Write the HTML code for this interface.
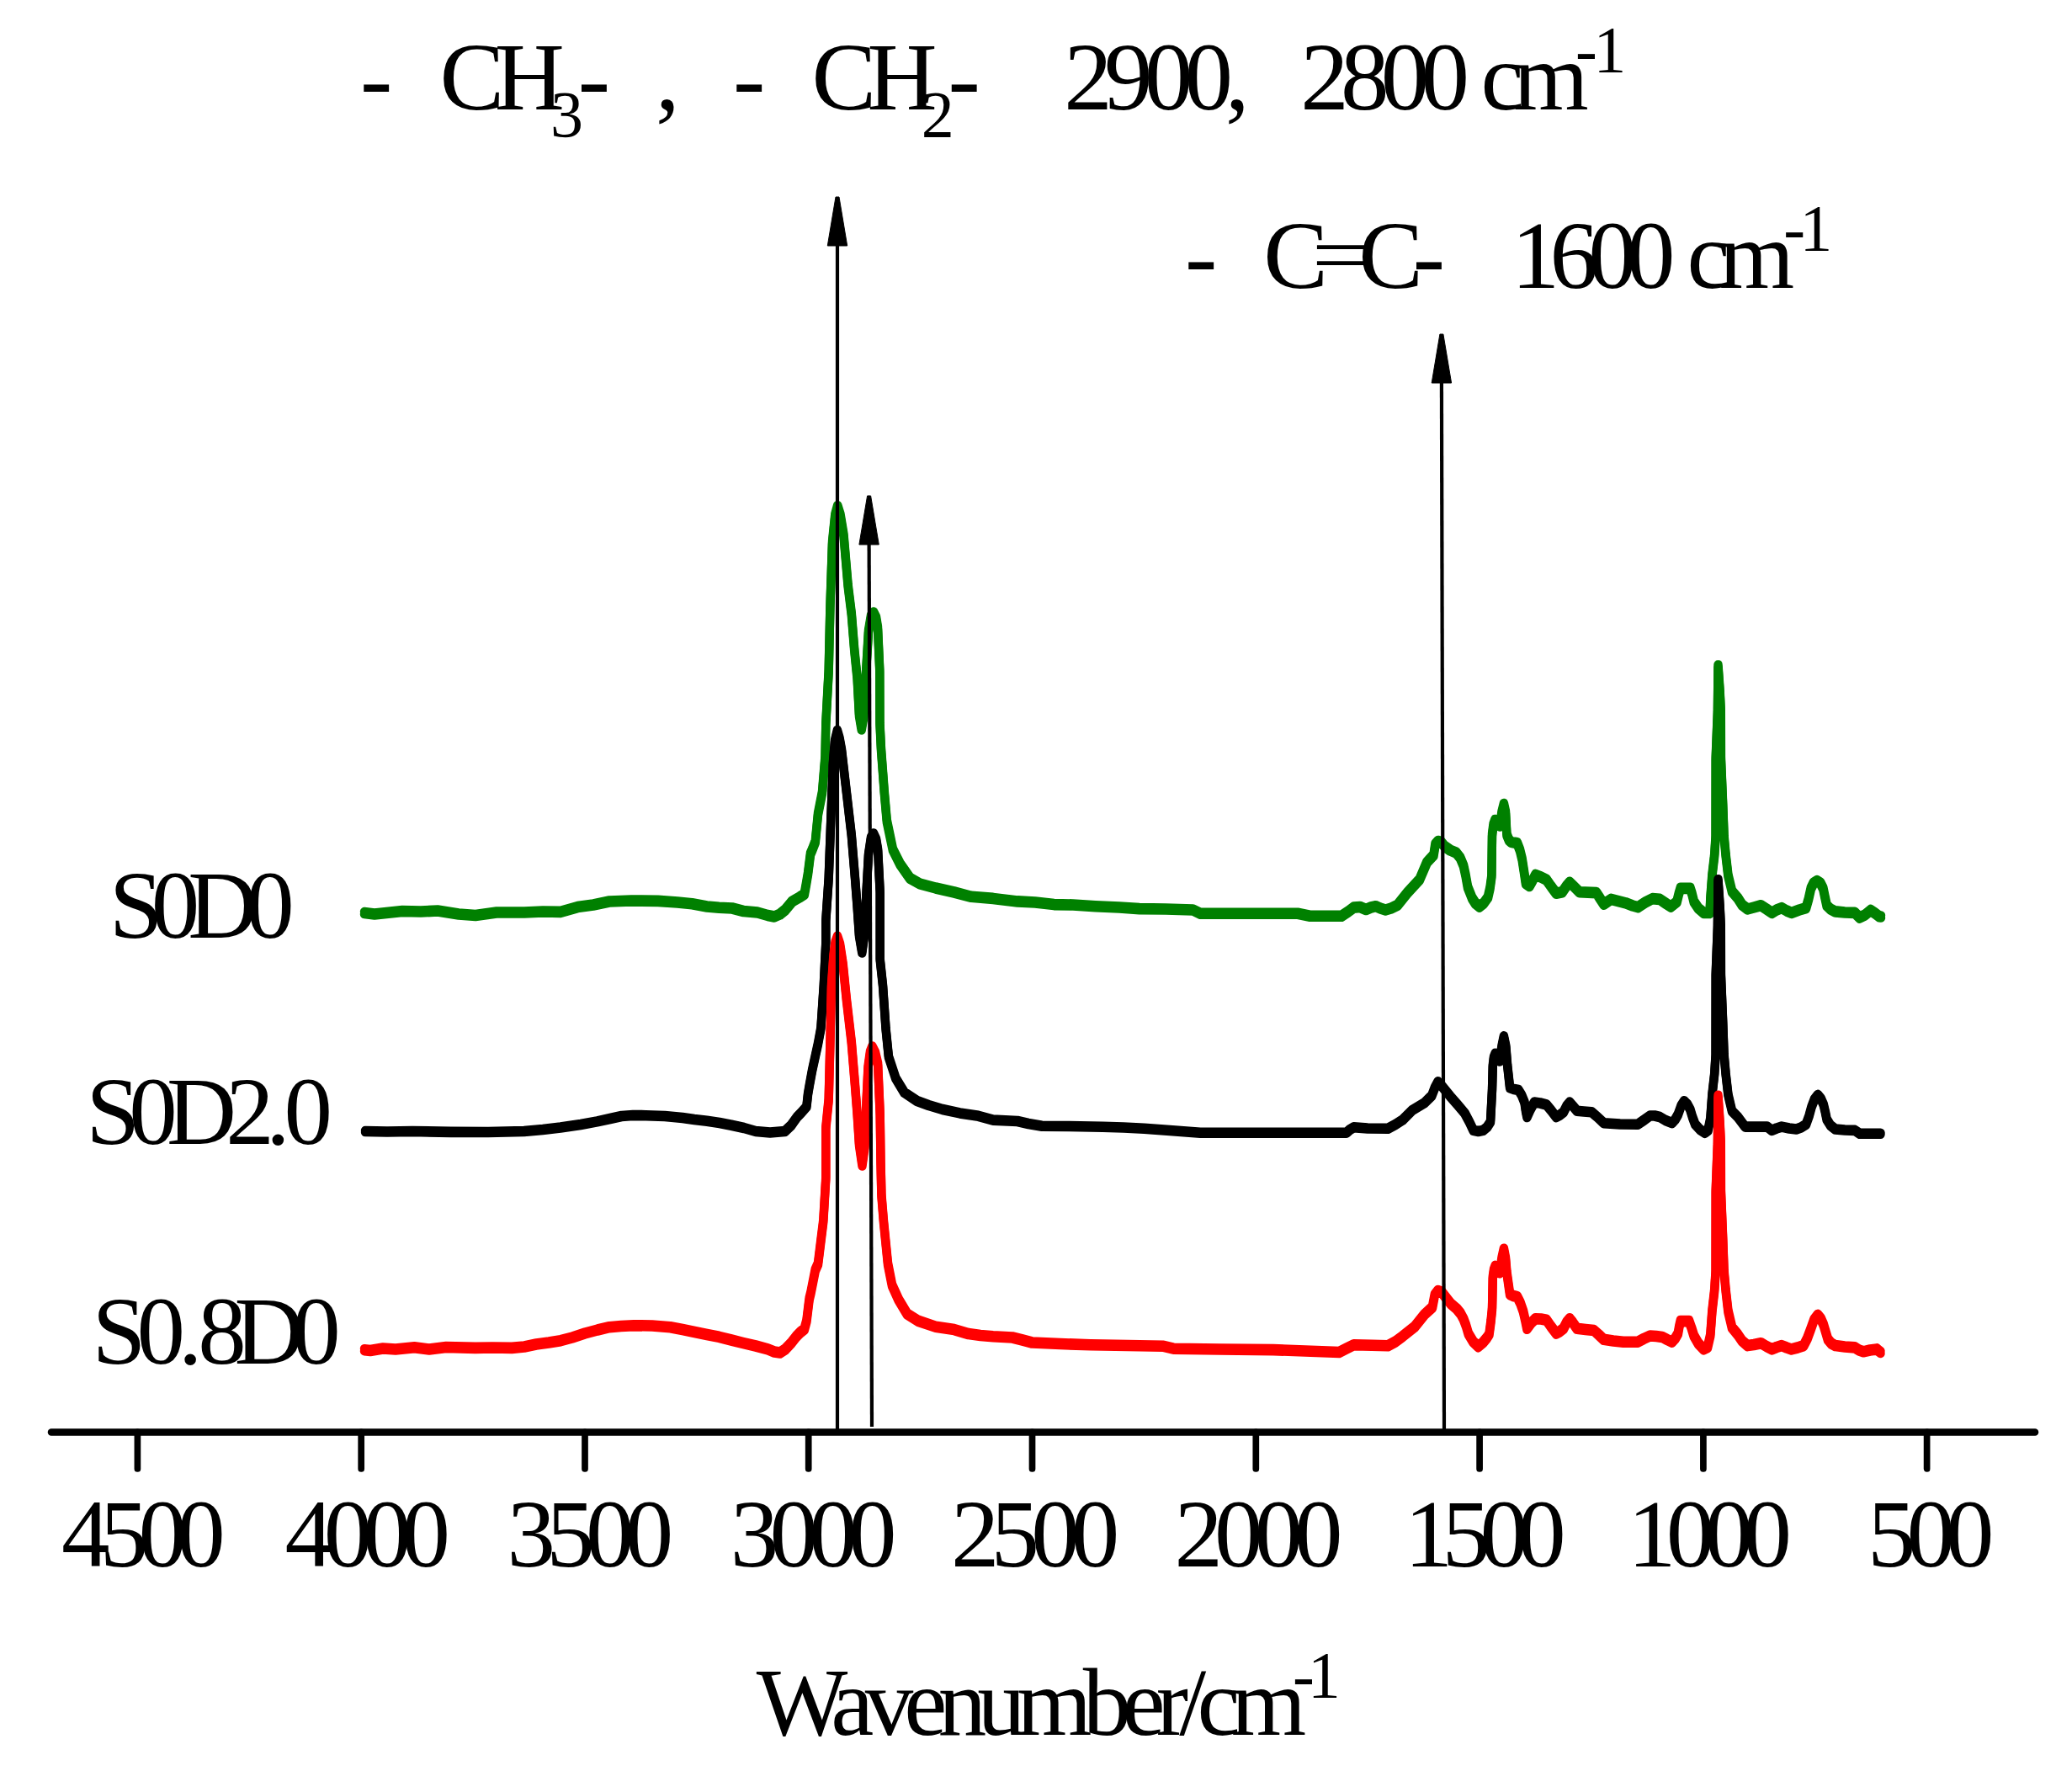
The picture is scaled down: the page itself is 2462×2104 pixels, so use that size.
<!DOCTYPE html>
<html><head><meta charset="utf-8"><title>FTIR spectra</title>
<style>html,body{margin:0;padding:0;background:#fff}svg{display:block}</style></head>
<body>
<svg width="2462" height="2104" viewBox="0 0 2462 2104">
<rect width="2462" height="2104" fill="#fff"/>
<g fill="none" stroke="#008000" stroke-width="10.4" stroke-linejoin="round" stroke-linecap="round"><polyline points="433.0,1083.0 445.0,1084.4 478.0,1080.9 500.0,1081.4 520.0,1080.4 545.0,1084.4 565.0,1085.9 590.0,1082.4 623.0,1082.4 645.0,1081.4 666.0,1081.8 686.4,1076.0 705.0,1073.4 724.0,1069.4 750.0,1068.4 782.0,1068.8 805.0,1070.4 822.5,1072.2 840.0,1075.4 854.4,1076.6 870.0,1077.4 883.4,1080.9 900.0,1082.4 912.3,1085.9 920.0,1087.4 926.8,1084.4 933.0,1079.4 941.3,1069.4 950.0,1064.4 955.8,1060.7 958.0,1048.4 960.1,1036.0 963.0,1012.9 965.2,1007.8 968.8,998.4 972.0,965.4 977.0,940.0 980.5,897.7 981.3,858.4 984.7,795.4 986.4,719.4 989.0,643.1 992.3,610.4 995.2,599.9 998.5,610.4 1002.5,634.4 1007.6,693.9 1011.8,727.8 1015.2,770.2 1018.6,804.0 1021.0,848.4 1023.7,864.4 1026.5,848.4 1029.0,798.4 1032.0,748.4 1035.0,730.4 1038.0,726.4 1041.0,732.4 1043.0,744.4 1045.3,795.4 1045.5,858.4 1047.0,889.2 1050.8,940.0 1053.8,973.9 1060.9,1007.8 1069.4,1024.7 1081.3,1041.7 1093.1,1048.4 1111.8,1053.4 1133.8,1058.4 1154.0,1063.7 1180.0,1065.8 1209.0,1069.3 1230.0,1070.4 1252.4,1073.0 1275.0,1073.4 1301.6,1075.1 1330.0,1076.4 1353.8,1078.0 1385.0,1078.4 1417.5,1079.4 1426.2,1083.7 1480.0,1083.7 1542.0,1083.7 1556.5,1086.6 1594.1,1086.6 1602.0,1081.4 1608.6,1076.5 1616.0,1075.9 1623.1,1078.9 1629.0,1076.4 1634.7,1075.1 1640.0,1077.4 1646.3,1079.4 1653.0,1077.4 1660.7,1073.6 1672.3,1059.1 1686.8,1043.2 1695.5,1022.9 1703.5,1014.2 1705.5,1001.4 1708.6,997.9 1712.5,998.9 1716.5,1003.9 1723.0,1008.4 1730.3,1011.6 1735.0,1017.4 1739.0,1026.9 1741.5,1038.4 1744.0,1052.4 1749.2,1065.4 1753.0,1071.4 1757.9,1075.4 1763.0,1071.4 1768.0,1064.4 1770.5,1053.4 1772.4,1039.4 1773.0,990.1 1774.5,978.4 1776.5,972.9 1779.5,973.4 1782.3,979.4 1784.5,963.4 1786.9,953.9 1789.0,963.4 1790.4,990.1 1793.0,996.4 1795.6,998.8 1802.8,1000.2 1806.0,1008.4 1808.6,1019.0 1811.0,1034.4 1813.0,1048.0 1817.3,1050.9 1820.5,1045.4 1824.5,1037.9 1831.0,1040.4 1837.6,1043.7 1843.0,1051.4 1849.1,1059.6 1856.4,1058.1 1861.0,1051.4 1865.1,1046.6 1870.0,1051.4 1876.7,1058.1 1896.9,1059.0 1901.0,1065.4 1905.6,1072.6 1914.3,1066.8 1931.7,1071.2 1940.0,1074.4 1946.2,1076.1 1955.0,1070.4 1963.5,1066.0 1972.2,1066.8 1979.0,1071.4 1985.3,1075.5 1992.5,1069.7 1994.8,1060.4 1996.8,1053.8 2008.4,1053.8 2010.5,1060.4 2012.8,1069.7 2018.0,1077.4 2024.4,1082.8 2031.6,1082.8 2032.3,1066.4 2034.4,1038.4 2037.2,1014.4 2038.6,992.4 2038.7,899.4 2040.9,843.4 2041.5,789.4 2043.6,819.4 2044.8,843.4 2044.9,899.4 2047.2,954.4 2048.6,992.4 2050.6,1014.4 2053.4,1038.4 2058.0,1057.4 2064.9,1065.4 2070.0,1073.4 2076.5,1078.4 2084.0,1076.4 2092.4,1074.1 2099.0,1078.4 2105.4,1082.8 2111.0,1079.4 2117.0,1077.0 2123.0,1080.4 2128.6,1082.8 2138.0,1079.4 2146.0,1077.0 2149.0,1066.4 2151.8,1053.8 2155.0,1047.4 2159.0,1045.1 2163.0,1047.4 2166.3,1053.8 2168.5,1064.4 2170.6,1074.1 2175.0,1078.4 2180.7,1081.3 2192.0,1082.4 2203.9,1082.8 2209.7,1088.5 2216.0,1085.4 2222.7,1079.9 2228.0,1083.4 2232.9,1087.1 2235.0,1087.4"/><polyline points="433.0,1086.2 445.0,1087.6 478.0,1084.1 500.0,1084.6 520.0,1083.6 545.0,1087.6 565.0,1089.1 590.0,1085.6 623.0,1085.6 645.0,1084.6 666.0,1085.0 686.4,1079.2 705.0,1076.6 724.0,1072.6 750.0,1071.6 782.0,1072.0 805.0,1073.6 822.5,1075.4 840.0,1078.6 854.4,1079.8 870.0,1080.6 883.4,1084.1 900.0,1085.6 912.3,1089.1 920.0,1090.6 926.8,1087.6 933.0,1082.6 941.3,1072.6 950.0,1067.6 955.8,1063.9 958.0,1051.6 960.1,1039.2 963.0,1016.1 965.2,1011.0 968.8,1001.6 972.0,968.6 977.0,943.2 980.5,900.9 981.3,861.6 984.7,798.6 986.4,722.6 989.0,646.3 992.3,613.6 995.2,603.1 998.5,613.6 1002.5,637.6 1007.6,697.1 1011.8,731.0 1015.2,773.4 1018.6,807.2 1021.0,851.6 1023.7,867.6 1026.5,851.6 1029.0,801.6 1032.0,751.6 1035.0,733.6 1038.0,729.6 1041.0,735.6 1043.0,747.6 1045.3,798.6 1045.5,861.6 1047.0,892.4 1050.8,943.2 1053.8,977.1 1060.9,1011.0 1069.4,1027.9 1081.3,1044.9 1093.1,1051.6 1111.8,1056.6 1133.8,1061.6 1154.0,1066.9 1180.0,1069.0 1209.0,1072.5 1230.0,1073.6 1252.4,1076.2 1275.0,1076.6 1301.6,1078.3 1330.0,1079.6 1353.8,1081.2 1385.0,1081.6 1417.5,1082.6 1426.2,1086.9 1480.0,1086.9 1542.0,1086.9 1556.5,1089.8 1594.1,1089.8 1602.0,1084.6 1608.6,1079.7 1616.0,1079.1 1623.1,1082.1 1629.0,1079.6 1634.7,1078.3 1640.0,1080.6 1646.3,1082.6 1653.0,1080.6 1660.7,1076.8 1672.3,1062.3 1686.8,1046.4 1695.5,1026.1 1703.5,1017.4 1705.5,1004.6 1708.6,1001.1 1712.5,1002.1 1716.5,1007.1 1723.0,1011.6 1730.3,1014.8 1735.0,1020.6 1739.0,1030.1 1741.5,1041.6 1744.0,1055.6 1749.2,1068.6 1753.0,1074.6 1757.9,1078.6 1763.0,1074.6 1768.0,1067.6 1770.5,1056.6 1772.4,1042.6 1773.0,993.3 1774.5,981.6 1776.5,976.1 1779.5,976.6 1782.3,982.6 1784.5,966.6 1786.9,957.1 1789.0,966.6 1790.4,993.3 1793.0,999.6 1795.6,1002.0 1802.8,1003.4 1806.0,1011.6 1808.6,1022.2 1811.0,1037.6 1813.0,1051.2 1817.3,1054.1 1820.5,1048.6 1824.5,1041.1 1831.0,1043.6 1837.6,1046.9 1843.0,1054.6 1849.1,1062.8 1856.4,1061.3 1861.0,1054.6 1865.1,1049.8 1870.0,1054.6 1876.7,1061.3 1896.9,1062.2 1901.0,1068.6 1905.6,1075.8 1914.3,1070.0 1931.7,1074.4 1940.0,1077.6 1946.2,1079.3 1955.0,1073.6 1963.5,1069.2 1972.2,1070.0 1979.0,1074.6 1985.3,1078.7 1992.5,1072.9 1994.8,1063.6 1996.8,1057.0 2008.4,1057.0 2010.5,1063.6 2012.8,1072.9 2018.0,1080.6 2024.4,1086.0 2031.6,1086.0 2032.3,1069.6 2034.4,1041.6 2037.2,1017.6 2038.6,995.6 2038.7,902.6 2040.9,846.6 2041.5,792.6 2043.6,822.6 2044.8,846.6 2044.9,902.6 2047.2,957.6 2048.6,995.6 2050.6,1017.6 2053.4,1041.6 2058.0,1060.6 2064.9,1068.6 2070.0,1076.6 2076.5,1081.6 2084.0,1079.6 2092.4,1077.3 2099.0,1081.6 2105.4,1086.0 2111.0,1082.6 2117.0,1080.2 2123.0,1083.6 2128.6,1086.0 2138.0,1082.6 2146.0,1080.2 2149.0,1069.6 2151.8,1057.0 2155.0,1050.6 2159.0,1048.3 2163.0,1050.6 2166.3,1057.0 2168.5,1067.6 2170.6,1077.3 2175.0,1081.6 2180.7,1084.5 2192.0,1085.6 2203.9,1086.0 2209.7,1091.7 2216.0,1088.6 2222.7,1083.1 2228.0,1086.6 2232.9,1090.3 2235.0,1090.6"/></g>
<g fill="none" stroke="#000" stroke-width="10.4" stroke-linejoin="round" stroke-linecap="round"><polyline points="434.0,1342.9 460.0,1343.4 490.0,1342.9 535.8,1343.8 580.0,1343.9 622.7,1342.9 645.0,1340.9 666.0,1338.5 690.0,1334.9 709.6,1331.3 725.0,1327.9 738.6,1324.9 752.0,1323.9 767.5,1324.1 790.0,1324.9 811.0,1326.9 825.0,1328.9 840.0,1330.7 855.0,1332.9 869.0,1335.6 884.0,1338.9 897.9,1342.9 915.0,1344.4 932.6,1342.9 940.0,1335.9 947.4,1325.6 952.0,1320.9 958.4,1313.7 960.0,1298.9 961.8,1288.3 965.0,1270.9 968.6,1254.4 972.0,1238.9 975.4,1220.5 978.8,1169.7 981.3,1118.9 981.3,1092.9 984.7,1042.2 987.2,974.4 989.8,906.7 992.0,878.9 994.9,866.9 997.5,875.9 1000.0,889.7 1005.9,940.5 1011.8,991.4 1016.0,1042.2 1018.6,1076.1 1021.0,1110.9 1024.3,1130.4 1027.0,1110.9 1029.5,1058.9 1032.0,1013.9 1035.0,993.9 1038.0,989.4 1041.0,995.9 1043.1,1008.3 1045.7,1059.1 1045.7,1138.9 1049.0,1169.7 1052.5,1220.5 1055.9,1254.4 1064.3,1279.9 1074.5,1296.8 1089.7,1306.9 1103.3,1311.9 1120.0,1316.9 1140.5,1321.3 1162.6,1324.7 1180.0,1329.5 1209.0,1330.9 1222.0,1333.9 1238.0,1336.7 1270.0,1336.9 1310.3,1337.6 1335.0,1338.4 1359.6,1339.6 1390.0,1341.9 1426.2,1344.6 1500.0,1344.6 1600.0,1344.6 1604.0,1340.9 1608.6,1338.2 1625.0,1339.4 1649.2,1339.6 1658.0,1334.9 1666.5,1329.5 1678.1,1317.9 1692.6,1309.2 1701.3,1300.5 1705.0,1290.9 1708.6,1284.2 1713.0,1288.9 1723.2,1301.3 1732.0,1311.4 1740.5,1321.5 1746.0,1331.9 1750.7,1341.8 1756.5,1342.9 1762.3,1341.8 1767.0,1337.9 1771.0,1331.7 1773.0,1293.9 1773.8,1264.9 1775.0,1254.9 1776.7,1250.6 1779.5,1253.9 1782.0,1259.3 1784.5,1241.9 1786.9,1230.3 1789.3,1241.9 1791.2,1265.1 1794.1,1291.1 1799.0,1292.9 1804.3,1293.9 1808.0,1299.9 1811.5,1308.5 1813.0,1318.9 1814.4,1325.9 1818.0,1317.9 1823.1,1308.5 1830.0,1309.4 1837.6,1311.4 1843.0,1317.9 1849.1,1325.9 1853.0,1323.9 1857.8,1320.1 1861.5,1312.9 1865.1,1308.5 1869.0,1312.9 1873.8,1318.6 1882.0,1319.4 1891.1,1320.1 1898.0,1325.9 1905.6,1333.1 1925.0,1334.4 1946.2,1334.6 1953.0,1329.9 1960.6,1324.4 1966.0,1324.4 1972.2,1325.9 1979.0,1329.9 1986.7,1333.1 1990.5,1328.9 1993.9,1322.9 1997.5,1312.9 2001.2,1307.1 2005.0,1310.9 2008.4,1317.2 2011.0,1325.9 2014.2,1334.6 2020.0,1340.9 2025.8,1344.7 2029.5,1341.9 2032.3,1328.1 2034.4,1299.4 2037.2,1274.8 2038.6,1252.3 2038.7,1156.9 2040.9,1099.5 2041.5,1044.2 2043.6,1074.9 2044.8,1099.5 2044.9,1156.9 2047.2,1213.3 2048.6,1252.3 2050.6,1274.8 2053.4,1299.4 2058.0,1318.9 2064.9,1325.9 2073.6,1337.5 2086.0,1337.5 2099.7,1337.5 2105.4,1341.8 2111.0,1339.4 2117.0,1337.5 2126.0,1339.4 2134.4,1340.4 2140.0,1338.4 2146.0,1334.6 2149.5,1324.9 2152.4,1314.3 2156.0,1304.9 2159.9,1299.8 2163.5,1303.9 2166.8,1311.4 2168.8,1319.9 2170.6,1328.8 2175.0,1335.9 2180.7,1340.4 2192.0,1341.4 2203.9,1341.8 2209.7,1345.6 2225.0,1345.6 2234.5,1345.6"/><polyline points="434.0,1345.1 460.0,1345.6 490.0,1345.1 535.8,1346.0 580.0,1346.1 622.7,1345.1 645.0,1343.1 666.0,1340.7 690.0,1337.1 709.6,1333.5 725.0,1330.1 738.6,1327.1 752.0,1326.1 767.5,1326.3 790.0,1327.1 811.0,1329.1 825.0,1331.1 840.0,1332.9 855.0,1335.1 869.0,1337.8 884.0,1341.1 897.9,1345.1 915.0,1346.6 932.6,1345.1 940.0,1338.1 947.4,1327.8 952.0,1323.1 958.4,1315.9 960.0,1301.1 961.8,1290.5 965.0,1273.1 968.6,1256.6 972.0,1241.1 975.4,1222.7 978.8,1171.9 981.3,1121.1 981.3,1095.1 984.7,1044.4 987.2,976.6 989.8,908.9 992.0,881.1 994.9,869.1 997.5,878.1 1000.0,891.9 1005.9,942.7 1011.8,993.6 1016.0,1044.4 1018.6,1078.3 1021.0,1113.1 1024.3,1132.6 1027.0,1113.1 1029.5,1061.1 1032.0,1016.1 1035.0,996.1 1038.0,991.6 1041.0,998.1 1043.1,1010.5 1045.7,1061.3 1045.7,1141.1 1049.0,1171.9 1052.5,1222.7 1055.9,1256.6 1064.3,1282.1 1074.5,1299.0 1089.7,1309.1 1103.3,1314.1 1120.0,1319.1 1140.5,1323.5 1162.6,1326.9 1180.0,1331.7 1209.0,1333.1 1222.0,1336.1 1238.0,1338.9 1270.0,1339.1 1310.3,1339.8 1335.0,1340.6 1359.6,1341.8 1390.0,1344.1 1426.2,1346.8 1500.0,1346.8 1600.0,1346.8 1604.0,1343.1 1608.6,1340.4 1625.0,1341.6 1649.2,1341.8 1658.0,1337.1 1666.5,1331.7 1678.1,1320.1 1692.6,1311.4 1701.3,1302.7 1705.0,1293.1 1708.6,1286.4 1713.0,1291.1 1723.2,1303.5 1732.0,1313.6 1740.5,1323.7 1746.0,1334.1 1750.7,1344.0 1756.5,1345.1 1762.3,1344.0 1767.0,1340.1 1771.0,1333.9 1773.0,1296.1 1773.8,1267.1 1775.0,1257.1 1776.7,1252.8 1779.5,1256.1 1782.0,1261.5 1784.5,1244.1 1786.9,1232.5 1789.3,1244.1 1791.2,1267.3 1794.1,1293.3 1799.0,1295.1 1804.3,1296.1 1808.0,1302.1 1811.5,1310.7 1813.0,1321.1 1814.4,1328.1 1818.0,1320.1 1823.1,1310.7 1830.0,1311.6 1837.6,1313.6 1843.0,1320.1 1849.1,1328.1 1853.0,1326.1 1857.8,1322.3 1861.5,1315.1 1865.1,1310.7 1869.0,1315.1 1873.8,1320.8 1882.0,1321.6 1891.1,1322.3 1898.0,1328.1 1905.6,1335.3 1925.0,1336.6 1946.2,1336.8 1953.0,1332.1 1960.6,1326.6 1966.0,1326.6 1972.2,1328.1 1979.0,1332.1 1986.7,1335.3 1990.5,1331.1 1993.9,1325.1 1997.5,1315.1 2001.2,1309.3 2005.0,1313.1 2008.4,1319.4 2011.0,1328.1 2014.2,1336.8 2020.0,1343.1 2025.8,1346.9 2029.5,1344.1 2032.3,1330.3 2034.4,1301.6 2037.2,1277.0 2038.6,1254.5 2038.7,1159.1 2040.9,1101.7 2041.5,1046.4 2043.6,1077.1 2044.8,1101.7 2044.9,1159.1 2047.2,1215.5 2048.6,1254.5 2050.6,1277.0 2053.4,1301.6 2058.0,1321.1 2064.9,1328.1 2073.6,1339.7 2086.0,1339.7 2099.7,1339.7 2105.4,1344.0 2111.0,1341.6 2117.0,1339.7 2126.0,1341.6 2134.4,1342.6 2140.0,1340.6 2146.0,1336.8 2149.5,1327.1 2152.4,1316.5 2156.0,1307.1 2159.9,1302.0 2163.5,1306.1 2166.8,1313.6 2168.8,1322.1 2170.6,1331.0 2175.0,1338.1 2180.7,1342.6 2192.0,1343.6 2203.9,1344.0 2209.7,1347.8 2225.0,1347.8 2234.5,1347.8"/></g>
<g fill="none" stroke="#ff0000" stroke-width="10.4" stroke-linejoin="round" stroke-linecap="round"><polyline points="433.0,1602.1 440.0,1602.9 455.0,1600.4 470.0,1601.4 492.4,1599.2 510.0,1601.4 530.0,1598.9 564.8,1599.8 585.0,1599.4 608.2,1599.8 623.0,1598.4 637.2,1595.4 652.0,1593.4 666.2,1591.1 680.0,1587.4 695.0,1582.4 710.0,1578.4 724.0,1575.1 738.0,1573.9 753.0,1573.1 775.0,1573.4 796.5,1575.1 811.0,1577.9 825.4,1580.9 840.0,1583.9 854.4,1586.7 869.0,1590.4 883.4,1594.0 898.0,1597.4 912.3,1601.2 920.0,1604.4 926.8,1605.4 933.0,1601.4 940.7,1593.2 946.0,1586.4 950.8,1581.4 955.8,1577.4 958.4,1567.8 961.6,1541.8 963.5,1533.9 968.8,1507.1 972.0,1500.0 978.3,1449.2 981.3,1398.4 981.3,1338.6 984.7,1304.7 986.4,1237.0 988.0,1169.2 990.5,1133.4 992.5,1118.4 995.0,1111.4 998.0,1120.4 1001.6,1143.8 1005.9,1186.2 1011.8,1237.0 1016.0,1287.8 1018.6,1321.7 1021.0,1358.4 1024.5,1382.4 1027.5,1360.4 1029.5,1308.4 1031.5,1266.4 1034.0,1248.4 1036.4,1242.4 1040.0,1249.4 1043.1,1262.4 1045.7,1321.7 1046.5,1378.4 1047.4,1418.4 1049.9,1449.2 1055.0,1500.0 1060.0,1525.4 1067.7,1542.4 1077.9,1559.4 1091.4,1567.8 1111.8,1574.6 1133.8,1578.0 1150.7,1583.0 1165.0,1584.9 1180.0,1586.1 1203.0,1587.4 1215.0,1590.4 1226.3,1593.4 1260.0,1594.9 1295.8,1596.2 1340.0,1596.9 1382.7,1597.7 1394.3,1600.6 1450.0,1601.4 1513.0,1602.0 1550.7,1603.4 1591.2,1604.9 1600.0,1600.4 1608.6,1596.2 1630.0,1596.6 1649.2,1597.1 1658.0,1592.4 1666.5,1586.1 1681.0,1574.5 1692.6,1560.0 1702.0,1551.4 1704.8,1536.9 1708.6,1531.9 1713.0,1533.4 1718.0,1539.9 1724.0,1547.4 1731.0,1553.4 1735.5,1558.9 1739.0,1565.4 1742.0,1573.4 1744.8,1582.9 1750.5,1592.4 1756.4,1598.1 1762.0,1593.4 1767.0,1587.4 1769.5,1583.4 1771.5,1568.4 1773.0,1553.5 1773.8,1515.9 1775.0,1507.4 1776.7,1502.8 1779.5,1505.4 1782.0,1510.1 1784.5,1493.4 1786.9,1482.6 1789.0,1493.4 1790.4,1510.1 1794.1,1536.1 1798.0,1537.9 1802.8,1539.0 1806.5,1546.4 1810.0,1556.4 1812.5,1567.4 1814.4,1576.7 1819.0,1570.4 1824.5,1565.1 1831.0,1565.4 1837.6,1566.6 1843.0,1574.4 1849.1,1582.5 1853.0,1580.4 1857.8,1576.7 1861.5,1569.4 1865.1,1565.1 1869.0,1569.9 1873.8,1576.7 1884.0,1577.9 1894.0,1579.0 1900.0,1584.4 1905.6,1589.7 1917.0,1591.4 1928.8,1592.6 1946.2,1592.6 1953.0,1588.9 1960.6,1585.4 1968.0,1585.9 1975.1,1586.8 1981.0,1589.9 1986.7,1592.6 1990.5,1588.4 1993.9,1582.5 1995.3,1574.4 1996.8,1568.0 2007.0,1568.0 2010.0,1576.4 2012.8,1585.4 2018.0,1594.4 2024.4,1601.3 2029.0,1598.9 2032.3,1584.7 2034.4,1556.0 2037.2,1531.4 2038.6,1508.9 2038.7,1413.6 2040.9,1356.2 2041.5,1300.8 2043.6,1331.6 2044.8,1356.2 2044.9,1413.6 2047.2,1469.9 2048.6,1508.9 2050.6,1531.4 2053.4,1556.0 2058.0,1575.5 2064.9,1583.9 2070.0,1591.4 2076.5,1597.0 2084.0,1595.9 2092.4,1594.1 2099.0,1597.9 2105.4,1601.3 2111.0,1598.9 2117.0,1597.0 2123.0,1599.4 2128.6,1601.3 2136.0,1599.4 2143.1,1597.0 2147.5,1588.4 2151.8,1576.7 2155.5,1566.4 2159.9,1560.8 2163.5,1564.9 2166.8,1572.4 2169.5,1581.4 2172.0,1589.7 2176.0,1594.4 2180.7,1597.0 2192.0,1598.4 2203.9,1599.3 2209.0,1602.4 2214.0,1604.2 2222.0,1602.4 2230.0,1601.3 2232.5,1603.4 2234.5,1604.9"/><polyline points="433.0,1605.3 440.0,1606.1 455.0,1603.6 470.0,1604.6 492.4,1602.4 510.0,1604.6 530.0,1602.1 564.8,1603.0 585.0,1602.6 608.2,1603.0 623.0,1601.6 637.2,1598.6 652.0,1596.6 666.2,1594.3 680.0,1590.6 695.0,1585.6 710.0,1581.6 724.0,1578.3 738.0,1577.1 753.0,1576.3 775.0,1576.6 796.5,1578.3 811.0,1581.1 825.4,1584.1 840.0,1587.1 854.4,1589.9 869.0,1593.6 883.4,1597.2 898.0,1600.6 912.3,1604.4 920.0,1607.6 926.8,1608.6 933.0,1604.6 940.7,1596.4 946.0,1589.6 950.8,1584.6 955.8,1580.6 958.4,1571.0 961.6,1545.0 963.5,1537.1 968.8,1510.3 972.0,1503.2 978.3,1452.4 981.3,1401.6 981.3,1341.8 984.7,1307.9 986.4,1240.2 988.0,1172.4 990.5,1136.6 992.5,1121.6 995.0,1114.6 998.0,1123.6 1001.6,1147.0 1005.9,1189.4 1011.8,1240.2 1016.0,1291.0 1018.6,1324.9 1021.0,1361.6 1024.5,1385.6 1027.5,1363.6 1029.5,1311.6 1031.5,1269.6 1034.0,1251.6 1036.4,1245.6 1040.0,1252.6 1043.1,1265.6 1045.7,1324.9 1046.5,1381.6 1047.4,1421.6 1049.9,1452.4 1055.0,1503.2 1060.0,1528.6 1067.7,1545.6 1077.9,1562.6 1091.4,1571.0 1111.8,1577.8 1133.8,1581.2 1150.7,1586.2 1165.0,1588.1 1180.0,1589.3 1203.0,1590.6 1215.0,1593.6 1226.3,1596.6 1260.0,1598.1 1295.8,1599.4 1340.0,1600.1 1382.7,1600.9 1394.3,1603.8 1450.0,1604.6 1513.0,1605.2 1550.7,1606.6 1591.2,1608.1 1600.0,1603.6 1608.6,1599.4 1630.0,1599.8 1649.2,1600.3 1658.0,1595.6 1666.5,1589.3 1681.0,1577.7 1692.6,1563.2 1702.0,1554.6 1704.8,1540.1 1708.6,1535.1 1713.0,1536.6 1718.0,1543.1 1724.0,1550.6 1731.0,1556.6 1735.5,1562.1 1739.0,1568.6 1742.0,1576.6 1744.8,1586.1 1750.5,1595.6 1756.4,1601.3 1762.0,1596.6 1767.0,1590.6 1769.5,1586.6 1771.5,1571.6 1773.0,1556.7 1773.8,1519.1 1775.0,1510.6 1776.7,1506.0 1779.5,1508.6 1782.0,1513.3 1784.5,1496.6 1786.9,1485.8 1789.0,1496.6 1790.4,1513.3 1794.1,1539.3 1798.0,1541.1 1802.8,1542.2 1806.5,1549.6 1810.0,1559.6 1812.5,1570.6 1814.4,1579.9 1819.0,1573.6 1824.5,1568.3 1831.0,1568.6 1837.6,1569.8 1843.0,1577.6 1849.1,1585.7 1853.0,1583.6 1857.8,1579.9 1861.5,1572.6 1865.1,1568.3 1869.0,1573.1 1873.8,1579.9 1884.0,1581.1 1894.0,1582.2 1900.0,1587.6 1905.6,1592.9 1917.0,1594.6 1928.8,1595.8 1946.2,1595.8 1953.0,1592.1 1960.6,1588.6 1968.0,1589.1 1975.1,1590.0 1981.0,1593.1 1986.7,1595.8 1990.5,1591.6 1993.9,1585.7 1995.3,1577.6 1996.8,1571.2 2007.0,1571.2 2010.0,1579.6 2012.8,1588.6 2018.0,1597.6 2024.4,1604.5 2029.0,1602.1 2032.3,1587.9 2034.4,1559.2 2037.2,1534.6 2038.6,1512.1 2038.7,1416.8 2040.9,1359.4 2041.5,1304.0 2043.6,1334.8 2044.8,1359.4 2044.9,1416.8 2047.2,1473.1 2048.6,1512.1 2050.6,1534.6 2053.4,1559.2 2058.0,1578.7 2064.9,1587.1 2070.0,1594.6 2076.5,1600.2 2084.0,1599.1 2092.4,1597.3 2099.0,1601.1 2105.4,1604.5 2111.0,1602.1 2117.0,1600.2 2123.0,1602.6 2128.6,1604.5 2136.0,1602.6 2143.1,1600.2 2147.5,1591.6 2151.8,1579.9 2155.5,1569.6 2159.9,1564.0 2163.5,1568.1 2166.8,1575.6 2169.5,1584.6 2172.0,1592.9 2176.0,1597.6 2180.7,1600.2 2192.0,1601.6 2203.9,1602.5 2209.0,1605.6 2214.0,1607.4 2222.0,1605.6 2230.0,1604.5 2232.5,1606.6 2234.5,1608.1"/></g>
<g stroke="#000" stroke-width="8.5" stroke-linecap="round" fill="none">
<line x1="61" y1="1701.4" x2="2418" y2="1701.4"/>
<line x1="163.4" y1="1701.4" x2="163.4" y2="1745" stroke-width="7.7"/>
<line x1="429.2" y1="1701.4" x2="429.2" y2="1745" stroke-width="7.7"/>
<line x1="695.0" y1="1701.4" x2="695.0" y2="1745" stroke-width="7.7"/>
<line x1="960.7" y1="1701.4" x2="960.7" y2="1745" stroke-width="7.7"/>
<line x1="1226.5" y1="1701.4" x2="1226.5" y2="1745" stroke-width="7.7"/>
<line x1="1492.3" y1="1701.4" x2="1492.3" y2="1745" stroke-width="7.7"/>
<line x1="1758.1" y1="1701.4" x2="1758.1" y2="1745" stroke-width="7.7"/>
<line x1="2023.9" y1="1701.4" x2="2023.9" y2="1745" stroke-width="7.7"/>
<line x1="2289.6" y1="1701.4" x2="2289.6" y2="1745" stroke-width="7.7"/>
</g>
<line x1="995" y1="290" x2="995" y2="1699" stroke="#000" stroke-width="4.2"/><polygon points="993,234 997,234 1006.7,292 983.3,292" fill="#000" stroke="#000" stroke-width="1" stroke-linejoin="round"/>
<line x1="1032.6" y1="645" x2="1036" y2="1695" stroke="#000" stroke-width="4.2"/><polygon points="1030.6,589 1034.6,589 1044.3,647 1020.8999999999999,647" fill="#000" stroke="#000" stroke-width="1" stroke-linejoin="round"/>
<line x1="1712.9" y1="453" x2="1716" y2="1699" stroke="#000" stroke-width="4.2"/><polygon points="1710.9,397 1714.9,397 1724.6000000000001,455 1701.2,455" fill="#000" stroke="#000" stroke-width="1" stroke-linejoin="round"/>
<g font-family="'Liberation Serif', 'Times New Roman', serif" fill="#000">
<text id="t1a" x="428.0" y="131.9" font-size="115">-</text>
<text id="t1b" x="522.6" y="130.3" font-size="115" letter-spacing="-11.5">CH</text>
<text id="t1c" x="654.0" y="161.8" font-size="78">3</text>
<text id="t1d" x="686.8" y="131.9" font-size="115">-</text>
<text id="t1e" x="779.0" y="130.3" font-size="115">,</text>
<text id="t1f" x="871.0" y="131.9" font-size="115">-</text>
<text id="t1g" x="964.6" y="130.3" font-size="115" letter-spacing="-10.7">CH</text>
<text id="t1h" x="1094.8" y="161.8" font-size="78">2</text>
<text id="t1i" x="1126.4" y="131.9" font-size="115">-</text>
<text id="t1j" x="1264.2" y="130.3" font-size="115" letter-spacing="-9.77">2900</text>
<text id="t1j2" x="1456.0" y="130.3" font-size="115">,</text>
<text id="t1k" x="1545.2" y="130.3" font-size="115" letter-spacing="-9.77">2800</text>
<text id="t1l" x="1759.4" y="130.3" font-size="115" letter-spacing="-12.3">cm</text>
<text id="t1m" x="1872.0" y="86.3" font-size="77.5">-</text>
<text id="t1n" x="1893.4" y="85.3" font-size="77.5">1</text>
<text id="t2a" x="1408.0" y="343.2" font-size="115">-</text>
<text id="t2b" x="1501.2" y="341.5" font-size="115">C</text>
<text id="t2c" x="1558.6" y="341.5" font-size="115" transform="translate(1558.6 303) scale(1.12 0.81) translate(-1558.6 -303)">=</text>
<text id="t2d" x="1614.2" y="341.5" font-size="115">C</text>
<text id="t2d2" x="1678.8" y="343.2" font-size="115">-</text>
<text id="t2e" x="1795.8" y="341.5" font-size="115" letter-spacing="-11.77">1600</text>
<text id="t2f" x="2004.6" y="341.5" font-size="115" letter-spacing="-12.9">cm</text>
<text id="t2g" x="2119.2" y="298.2" font-size="77.5">-</text>
<text id="t2h" x="2138.6" y="297.2" font-size="77.5">1</text>
<text id="l1" x="129.8" y="1114" font-size="115" letter-spacing="-13.98">S0D0</text>
<text id="l2a" x="102.2" y="1358.6" font-size="115" letter-spacing="-12.84">S0D2</text>
<text id="l2b" x="316.0" y="1358.6" font-size="115">.</text>
<text id="l2c" x="337.4" y="1358.6" font-size="115">0</text>
<text id="l3a" x="109.6" y="1619.5" font-size="115" letter-spacing="-11.1">S0</text>
<text id="l3b" x="211.8" y="1619.5" font-size="115">.</text>
<text id="l3c" x="235.2" y="1619.5" font-size="115" letter-spacing="-14.3">8D0</text>
<text id="a1" x="73.0" y="1860.7" font-size="115" letter-spacing="-11.71">4500</text>
<text id="a2" x="338.4" y="1860.7" font-size="115" letter-spacing="-11.1">4000</text>
<text id="a3" x="602.6" y="1860.7" font-size="115" letter-spacing="-10.76">3500</text>
<text id="a4" x="867.8" y="1860.7" font-size="115" letter-spacing="-10.76">3000</text>
<text id="a5" x="1130.0" y="1860.7" font-size="115" letter-spacing="-9.89">2500</text>
<text id="a6" x="1395.4" y="1860.7" font-size="115" letter-spacing="-9.98">2000</text>
<text id="a7" x="1668.8" y="1860.7" font-size="115" letter-spacing="-12.69">1500</text>
<text id="a8" x="1934.0" y="1860.7" font-size="115" letter-spacing="-11.7">1000</text>
<text id="a9" x="2219.0" y="1860.7" font-size="115" letter-spacing="-11.0">500</text>
<text id="xl" x="898.8" y="2060.5" font-size="115" letter-spacing="-10.77">Wavenumber/cm</text>
<text id="xs" x="1536.0" y="2017" font-size="77.5">-</text>
<text id="xs2" x="1554.0" y="2016" font-size="77.5">1</text>
</g>
</svg>
</body></html>
